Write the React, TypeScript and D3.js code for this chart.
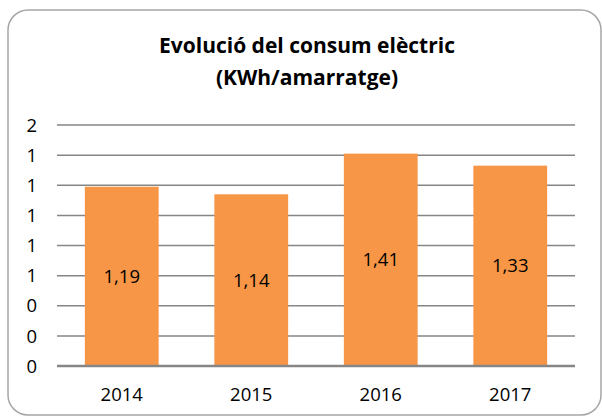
import React from "react";
import * as d3 from "d3";

const categories = ["2014", "2015", "2016", "2017"];
const values = [1.19, 1.14, 1.41, 1.33];
const valueLabels = ["1,19", "1,14", "1,41", "1,33"];
const yTicks = [0, 0.2, 0.4, 0.6, 0.8, 1.0, 1.2, 1.4, 1.6];
const titleLines = ["Evolució del consum elèctric", "(KWh/amarratge)"];

const W = 602;
const H = 417;
const FONT = "'Open Sans', sans-serif";

export default function App() {
  const left = 57;
  const right = 575;
  const y0 = 366;
  const y1 = 125;
  const x = d3.scaleBand<string>().domain(categories).range([left, right]).paddingInner(0.43).paddingOuter(0.215);
  const y = d3.scaleLinear().domain([0, 1.6]).range([y0, y1]);
  const fmt = d3.format(".0f");

  return (
    <svg width={W} height={H} style={{ position: "absolute", left: 0, top: 0 }} fontFamily={FONT}>
      <rect x={0} y={0} width={W} height={H} fill="#ffffff" />
      <rect x={8} y={10} width={593} height={405} rx={20} ry={20} fill="#ffffff" stroke="#a6a6a6" strokeWidth={1.5} />
      {titleLines.map((t, i) => (
        <text key={i} x={307} y={53 + i * 32} textAnchor="middle" fontSize={21} fontWeight={700} fill="#000">
          {t}
        </text>
      ))}
      {yTicks.map((t, i) => (
        <g key={i}>
          {i > 0 && <line x1={left} x2={right} y1={y(t)} y2={y(t)} stroke="#868686" strokeWidth={1.5} />}
          <text x={37} y={y(t)} dy="0.36em" textAnchor="end" fontSize={18.5} fill="#000">
            {fmt(t)}
          </text>
        </g>
      ))}
      {categories.map((c, i) => (
        <rect key={c} x={x(c)} y={y(values[i])} width={x.bandwidth()} height={y0 - y(values[i])} fill="#F79646" />
      ))}
      <line x1={left} x2={right} y1={y0} y2={y0} stroke="#868686" strokeWidth={2.5} />
      {categories.map((c, i) => (
        <text key={"v" + c} x={(x(c) as number) + x.bandwidth() / 2} y={(y(values[i]) + y0) / 2} dy="0.36em" textAnchor="middle" fontSize={18.5} fill="#000">
          {valueLabels[i]}
        </text>
      ))}
      {categories.map((c) => (
        <text key={"c" + c} x={(x(c) as number) + x.bandwidth() / 2} y={394} dy="0.36em" textAnchor="middle" fontSize={18.5} fill="#000">
          {c}
        </text>
      ))}
    </svg>
  );
}
